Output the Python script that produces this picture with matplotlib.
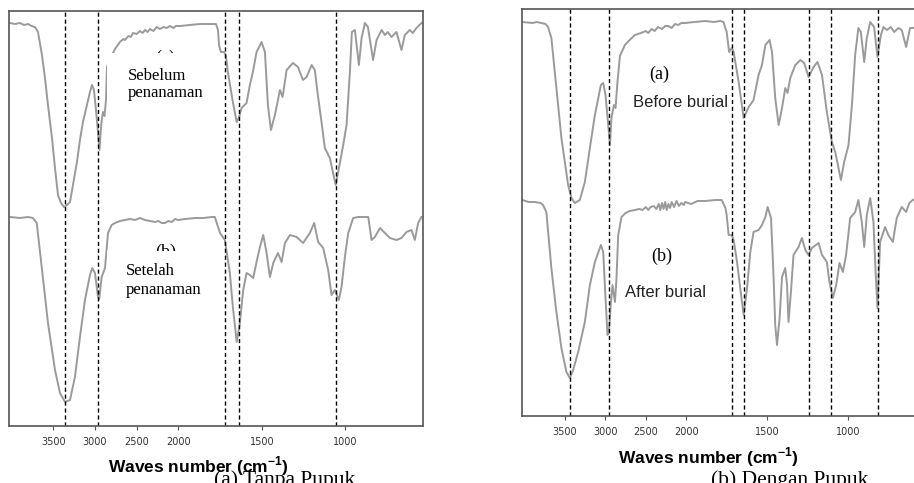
import numpy as np
import matplotlib
matplotlib.use('Agg')
import matplotlib.pyplot as plt

# ---------------- data (wavenumber cm-1, transmittance in arbitrary units) ----------------
la_wn = [4018, 3960, 3898, 3850, 3800, 3760, 3719, 3683, 3635, 3599, 3563, 3515, 3479, 3443, 3407, 3371,
         3335, 3299, 3264, 3216, 3180, 3144, 3096, 3060, 3036, 3012, 2988, 2964, 2946, 2934, 2922, 2904,
         2886, 2868, 2856, 2820, 2784, 2760, 2701, 2660, 2641, 2600, 2570, 2545, 2500, 2461, 2430, 2400,
         2370, 2341, 2300, 2260, 2222, 2180, 2140, 2102, 2060, 2030, 1991, 1931, 1871, 1811, 1775, 1763,
         1757, 1746, 1728, 1716, 1704, 1674, 1651, 1638, 1622, 1592, 1572, 1554, 1532, 1502, 1482, 1464,
         1446, 1422, 1392, 1376, 1352, 1314, 1284, 1254, 1232, 1202, 1183, 1165, 1143, 1123, 1093, 1058,
         1043, 1013, 993, 973, 961, 943, 919, 903, 883, 865, 834, 813, 783, 763, 746, 724, 694, 664, 644,
         614, 596, 574, 544]
la_y = [403, 402, 403, 401, 402, 400, 399, 394, 371, 348, 321, 288, 258, 231, 223, 219,
        221, 224, 241, 264, 286, 304, 321, 334, 341, 336, 316, 294, 276, 291, 304, 314,
        310, 326, 359, 368, 373, 377, 384, 387, 386, 390, 389, 393, 392, 395, 393, 396,
        394, 397, 395, 399, 397, 399, 398, 400, 398, 400, 400, 401, 402, 402, 402, 396,
        381, 374, 374, 371, 354, 324, 304, 308, 318, 323, 341, 354, 374, 384, 374, 321,
        296, 311, 336, 329, 356, 363, 359, 346, 349, 361, 356, 331, 304, 278, 268, 241,
        254, 281, 301, 354, 394, 396, 361, 388, 403, 399, 366, 386, 396, 391, 394, 389, 394, 376, 391,
        396, 393, 398, 403]

lb_wn = [4018, 3900, 3800, 3743, 3698, 3638, 3563, 3479, 3419, 3359, 3299, 3240, 3180, 3120, 3060, 3032,
         3000, 2964, 2949, 2920, 2880, 2844, 2800, 2760, 2700, 2641, 2580, 2520, 2460, 2400, 2340, 2281,
         2240, 2200, 2162, 2120, 2080, 2040, 2006, 1960, 1900, 1850, 1800, 1782, 1751, 1722, 1692, 1674,
         1651, 1632, 1612, 1592, 1572, 1552, 1532, 1512, 1492, 1472, 1452, 1432, 1404, 1382, 1362, 1332,
         1292, 1253, 1213, 1187, 1163, 1133, 1103, 1083, 1063, 1039, 1023, 1003, 983, 953, 923, 863, 843,
         823, 793, 763, 733, 694, 664, 634, 604, 584, 564, 544]
lb_y = [209, 208, 209, 208, 203, 159, 103, 56, 33, 24, 26, 49, 89, 126, 151, 158,
        153, 129, 127, 149, 158, 193, 201, 203, 205, 206, 207, 206, 208, 206, 205, 204,
        205, 203, 203, 205, 204, 207, 206, 207, 208, 208, 209, 209, 193, 186, 153, 119,
        84, 103, 136, 153, 151, 148, 164, 179, 191, 173, 149, 163, 173, 164, 183, 191,
        189, 183, 193, 203, 184, 178, 156, 131, 136, 126, 139, 169, 193, 208, 209, 209, 186,
        189, 198, 193, 188, 186, 188, 194, 196, 186, 203, 209]

ra_wn = [4025, 3900, 3850, 3791, 3740, 3708, 3667, 3605, 3543, 3460, 3419, 3377, 3315, 3253, 3191, 3129,
         3055, 3026, 2998, 2964, 2943, 2924, 2894, 2874, 2853, 2820, 2758, 2700, 2634, 2560, 2500, 2470,
         2428, 2390, 2350, 2300, 2260, 2221, 2180, 2140, 2100, 2060, 2014, 1950, 1883, 1830, 1790, 1770,
         1750, 1735, 1719, 1707, 1676, 1645, 1614, 1584, 1553, 1532, 1511, 1485, 1470, 1450, 1429, 1408,
         1388, 1374, 1357, 1326, 1295, 1271, 1244, 1213, 1189, 1161, 1131, 1100, 1079, 1059, 1044, 1024,
         997, 976, 956, 936, 921, 900, 884, 863, 839, 818, 797, 781, 760, 736, 715, 689, 668, 641, 617,
         596, 580]
ra_y = [394, 393, 394, 393, 392, 389, 378, 328, 278, 231, 218, 213, 216, 234, 268, 301,
        331, 333, 321, 291, 271, 298, 311, 308, 331, 360, 371, 376, 381, 383, 385, 383,
        387, 385, 389, 387, 390, 390, 388, 392, 391, 393, 393, 394, 395, 394, 395, 394,
        384, 364, 368, 364, 334, 298, 309, 316, 341, 351, 371, 376, 364, 318, 291, 308,
        328, 323, 338, 351, 356, 353, 339, 349, 354, 341, 304, 274, 264, 248, 236, 254,
        271, 311, 361, 388, 384, 354, 378, 394, 389, 359, 381, 389, 386, 389, 384, 388, 386, 369, 388,
        388, 389]

rb_wn = [4025, 3950, 3873, 3800, 3770, 3729, 3667, 3605, 3543, 3481, 3439, 3398, 3336, 3253, 3191, 3129,
         3055, 3026, 2998, 2973, 2956, 2931, 2911, 2881, 2862, 2841, 2800, 2750, 2700, 2634, 2580, 2540,
         2500, 2470, 2440, 2400, 2370, 2340, 2320, 2300, 2280, 2260, 2240, 2221, 2200, 2180, 2150, 2120,
         2090, 2060, 2030, 2014, 1970, 1930, 1883, 1820, 1781, 1758, 1750, 1738, 1719, 1707, 1686, 1661,
         1645, 1624, 1604, 1584, 1553, 1532, 1511, 1497, 1476, 1460, 1450, 1439, 1423, 1408, 1388, 1377,
         1368, 1353, 1337, 1306, 1285, 1264, 1244, 1223, 1182, 1161, 1131, 1115, 1094, 1073, 1053, 1032,
         1012, 987, 956, 936, 915, 900, 884, 863, 843, 828, 818, 802, 771, 751, 723, 699, 668, 641, 621,
         600, 580]
rb_y = [216, 214, 214, 213, 211, 204, 148, 104, 68, 44, 38, 46, 64, 94, 131, 154,
        171, 164, 118, 81, 84, 114, 131, 114, 138, 181, 199, 203, 205, 206, 207, 206,
        209, 206, 209, 210, 207, 212, 206, 213, 207, 214, 206, 212, 208, 214, 209, 215,
        210, 213, 211, 214, 212, 215, 215, 216, 216, 208, 201, 181, 181, 176, 154, 121,
        101, 128, 164, 184, 186, 191, 199, 209, 198, 138, 91, 71, 98, 139, 148, 131,
        94, 124, 161, 169, 178, 166, 161, 168, 173, 161, 154, 134, 118, 131, 153, 144,
        161, 198, 204, 216, 194, 169, 201, 218, 194, 138, 108, 174, 189, 181, 174, 198, 209, 204, 213,
        216, 217]

left_marks = [3365, 2960, 1722, 1638, 1058]
right_marks = [3435, 2953, 1719, 1645, 1240, 1104, 815]
tick_values = [3500, 3000, 2500, 2000, 1500, 1000]


# ---------------- scale: spectrometer axis with 2x expansion below 2000 cm-1 ----------------
def fwd(w):
    w = np.asarray(w, dtype=float)
    return np.where(w >= 2000, w, 2 * w - 2000)


def inv(u):
    u = np.asarray(u, dtype=float)
    return np.where(u >= 2000, u, (u + 2000) / 2)


W, H = 914, 483
fig = plt.figure(figsize=(W / 100, H / 100), dpi=100)

LINE = '#9a9a9a'
SPINE = '#555555'


def setup(ax, xlim, ylim):
    ax.set_xscale('function', functions=(fwd, inv))
    ax.set_xlim(*xlim)
    ax.set_ylim(*ylim)
    ax.set_yticks([])
    ax.set_xticks(tick_values)
    ax.set_xticklabels([str(t) for t in tick_values])
    ax.tick_params(axis='x', direction='out', length=3, width=0.8, color=SPINE,
                   labelsize=7, labelcolor='#333333', pad=5)
    for s in ax.spines.values():
        s.set_color(SPINE)
        s.set_linewidth(1.2)


# Left panel
axL = fig.add_axes([9 / W, (H - 426) / H, 414 / W, 415 / H])
setup(axL, (4030, 535), (0, 415))
axL.plot(la_wn, la_y, color=LINE, lw=1.4, zorder=2)
axL.plot(lb_wn, lb_y, color=LINE, lw=1.4, zorder=2)
for m in left_marks:
    axL.axvline(m, color='black', lw=1.0, ls=(0, (3, 2)), zorder=2.5)

serif = 'Liberation Serif'
sans = 'Liberation Sans'

axL.text(2160, 376, '(a)', family=serif, fontsize=13, ha='center', va='top', zorder=3)
axL.text(2150, 182, '(b)', family=serif, fontsize=13, ha='center', va='top', zorder=3)
axL.fill([2850, 1745, 1745, 2850], [212, 212, 373, 373], color='white', zorder=4, lw=0)
axL.fill([2850, 1745, 1745, 2850], [5, 5, 175, 175], color='white', zorder=4, lw=0)
axL.text(2605, 346, 'Sebelum', family=serif, fontsize=12, ha='left', va='baseline', zorder=5)
axL.text(2605, 329, 'penanaman', family=serif, fontsize=12, ha='left', va='baseline', zorder=5)
axL.text(2629, 151, 'Setelah', family=serif, fontsize=12, ha='left', va='baseline', zorder=5)
axL.text(2629, 132, 'penanaman', family=serif, fontsize=12, ha='left', va='baseline', zorder=5)

# Right panel
axR = fig.add_axes([522 / W, (H - 416) / H, 394 / W, 407 / H])
setup(axR, (4030, 580), (0, 407))
axR.plot(ra_wn, ra_y, color=LINE, lw=1.4, zorder=2)
axR.plot(rb_wn, rb_y, color=LINE, lw=1.4, zorder=2)
for m in right_marks:
    axR.axvline(m, color='black', lw=1.0, ls=(0, (3, 2)), zorder=2.5)

axR.text(2333, 342, '(a)', family=serif, fontsize=13, ha='center', va='center', zorder=5)
axR.text(2655, 309, 'Before burial', family=sans, fontsize=12, color='#222222',
         ha='left', va='baseline', zorder=5)
axR.text(2308, 160, '(b)', family=serif, fontsize=13, ha='center', va='center', zorder=5)
axR.text(2754, 119, 'After burial', family=sans, fontsize=12, color='#222222',
         ha='left', va='baseline', zorder=5)

# Captions
fig.text(285 / W, -2 / H, '(a) Tanpa Pupuk', family=serif, fontsize=15.5,
         ha='center', va='baseline')
fig.text(790 / W, -2 / H, '(b) Dengan Pupuk', family=serif, fontsize=15.5,
         ha='center', va='baseline')

lab = r'Waves number (cm$^{\mathregular{-1}}$)'
fig.text(198 / W, (H - 466) / H, lab, family=sans, weight='bold', fontsize=12.5,
         ha='center', va='center')
fig.text(708 / W, (H - 457) / H, lab, family=sans, weight='bold', fontsize=12.5,
         ha='center', va='center')

fig.savefig('out.png', dpi=100)
